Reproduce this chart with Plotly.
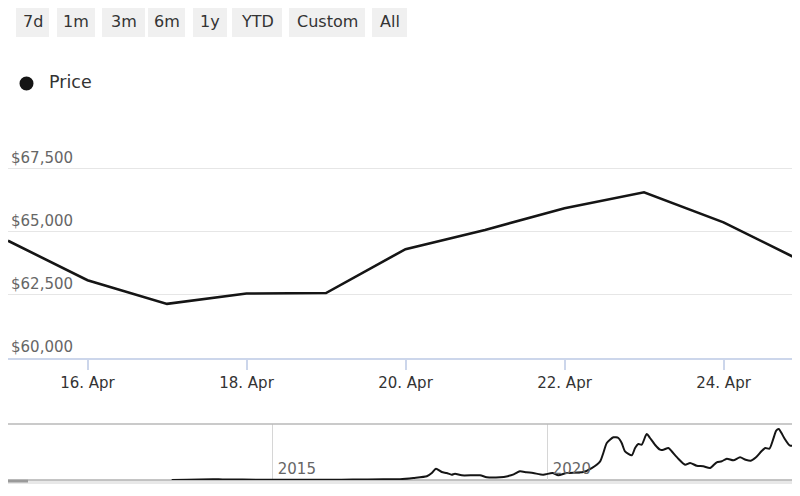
import plotly.graph_objects as go

# ---- main series (daily) ----
dates = ["2024-04-15", "2024-04-16", "2024-04-17", "2024-04-18", "2024-04-19",
         "2024-04-20", "2024-04-21", "2024-04-22", "2024-04-23", "2024-04-24",
         "2024-04-25"]
prices = [64630, 63070, 62130, 62540, 62560, 64300, 65060, 65920, 66550, 65360, 63800]

# ---- navigator series (long history) ----
nav_dates = ["2013-03-01", "2013-11-30", "2014-02-01", "2014-06-15", "2015-01-15",
             "2015-08-01", "2016-01-15", "2016-06-15", "2017-01-05", "2017-04-25",
             "2017-07-23", "2017-10-20", "2017-11-22", "2017-12-20", "2018-01-27",
             "2018-03-01", "2018-04-03", "2018-04-25", "2018-06-09", "2018-10-08",
             "2018-11-22", "2019-02-18", "2019-04-10", "2019-05-20", "2019-06-30",
             "2019-08-13", "2019-09-26", "2019-12-02", "2020-02-01", "2020-03-11",
             "2020-05-06", "2020-08-24", "2020-10-19", "2020-12-14", "2021-01-04",
             "2021-01-27", "2021-03-12", "2021-04-14", "2021-05-06", "2021-05-28",
             "2021-07-12", "2021-08-03", "2021-08-25", "2021-09-16", "2021-10-19",
             "2021-11-10", "2021-12-13", "2022-01-16", "2022-02-07", "2022-03-12",
             "2022-04-03", "2022-05-17", "2022-07-01", "2022-08-03", "2022-09-16",
             "2022-10-30", "2022-12-14", "2023-01-27", "2023-03-01", "2023-04-04",
             "2023-05-18", "2023-07-01", "2023-08-07", "2023-09-10", "2023-10-15",
             "2023-11-20", "2023-12-15", "2024-01-12", "2024-02-05", "2024-02-26",
             "2024-03-14", "2024-04-01", "2024-04-22", "2024-05-25", "2024-06-28",
             "2024-08-02"]
nav_values = [60, 1100, 800, 600, 300,
              250, 420, 650, 900, 1200,
              2900, 5300, 10000, 16100, 11400,
              10000, 7600, 9000, 6700, 6700,
              3900, 3900, 5500, 8000, 12400,
              11000, 10000, 7500, 10000, 6700,
              10000, 11400, 17000, 26700, 38600,
              52900, 61000, 60000, 52900, 41000,
              35300, 45700, 51400, 50400, 65700,
              60000, 50400, 43300, 43300, 45700,
              41000, 30400, 21900, 24300, 20400,
              19600, 17100, 25300, 26700, 30400,
              28100, 32400, 29000, 27600, 32400,
              41000, 45700, 44700, 57600, 70400,
              72900, 67100, 59000, 49600, 49600,
              54300]

button_labels = ["7d", "1m", "3m", "6m", "1y", "YTD", "Custom", "All"]
legend_label = "Price"

# page has an 8px body margin: figure occupies page pixels 8..800 / 8..496
W, H = 792, 488
OFF = 8
def px(x):
    return (x - OFF) / W
def py(y):
    return 1 - (y - OFF) / H

fig = go.Figure()
fig.add_trace(go.Scatter(x=dates, y=prices, mode="lines", name=legend_label,
                         line=dict(color="#151515", width=2.6), showlegend=False,
                         xaxis="x", yaxis="y"))
fig.add_trace(go.Scatter(x=nav_dates, y=nav_values, mode="lines", name="nav",
                         line=dict(color="#151515", width=2, shape="spline", smoothing=0.6),
                         showlegend=False, xaxis="x2", yaxis="y2", hoverinfo="skip"))

shapes = []
annotations = []

# range selector buttons (drawn)
btn_x = [(16, 49), (57, 95), (102, 145), (148, 185), (193, 227), (232, 282), (289, 365), (372, 407)]
for (x0, x1), lab in zip(btn_x, button_labels):
    shapes.append(dict(type="rect", xref="paper", yref="paper",
                       x0=px(x0), x1=px(x1), y0=py(37), y1=py(4.5),
                       fillcolor="#f0f0f0", line=dict(width=0), layer="below"))
    annotations.append(dict(text=lab, xref="paper", yref="paper",
                            x=px((x0 + x1) / 2), y=py(21), xanchor="center", yanchor="middle",
                            showarrow=False, font=dict(family="DejaVu Sans", size=16, color="#333333")))

# legend
shapes.append(dict(type="circle", xref="paper", yref="paper",
                   x0=px(19.5), x1=px(33.5), y0=py(90.5), y1=py(76.5),
                   fillcolor="#151515", line=dict(width=0)))
annotations.append(dict(text=legend_label, xref="paper", yref="paper", x=px(46.5), y=py(82),
                        xanchor="left", yanchor="middle", showarrow=False,
                        font=dict(family="DejaVu Sans", size=17.5, color="#333333")))

# navigator outline and scrollbar
shapes.append(dict(type="line", xref="paper", yref="paper", x0=px(8), x1=1, y0=py(424), y1=py(424),
                   line=dict(color="#b8b8b8", width=1.5)))
shapes.append(dict(type="rect", xref="paper", yref="paper", x0=px(8), x1=1, y0=py(484), y1=py(480.5),
                   fillcolor="#e8e8e8", line=dict(width=0), layer="below"))
shapes.append(dict(type="line", xref="paper", yref="paper", x0=px(28), x1=1, y0=py(480), y1=py(480),
                   line=dict(color="#b0b0b0", width=1.5), layer="below"))
shapes.append(dict(type="rect", xref="paper", yref="paper", x0=px(8), x1=px(28), y0=py(482.5), y1=py(479.3),
                   fillcolor="#9a9a9a", line=dict(width=0), layer="below"))

fig.update_layout(
    width=W, height=H,
    margin=dict(l=0, r=0, t=0, b=0),
    paper_bgcolor="white", plot_bgcolor="white",
    showlegend=False,
    font=dict(family="DejaVu Sans", color="#333333"),
    shapes=shapes, annotations=annotations,
    xaxis=dict(type="date", domain=[0, 1], anchor="y",
               range=["2024-04-15 00:00", "2024-04-24 23:05"],
               tick0="2024-04-16", dtick=2 * 86400000, tickformat="%d. %b",
               ticks="outside", ticklen=10, tickcolor="#ccd6eb", tickwidth=1.5,
               showline=True, linecolor="#ccd6eb", linewidth=2,
               showgrid=False, zeroline=False,
               tickfont=dict(family="DejaVu Sans", size=15, color="#333333")),
    yaxis=dict(domain=[py(357.7), py(120)], anchor="x",
               range=[60000, 69413], tick0=0, dtick=2500,
               tickprefix="$", tickformat=",d", ticklabelposition="inside top",
               showgrid=True, gridcolor="#e6e6e6", gridwidth=1,
               zeroline=False, showline=False, ticks="",
               tickfont=dict(family="DejaVu Sans", size=15, color="#666666")),
    xaxis2=dict(type="date", domain=[0, 1], anchor="y2",
                range=["2010-03-10", "2024-08-02"],
                tick0="2015-01-01", dtick="M60", tickformat="%Y",
                ticklabelposition="inside right", ticklabelshift=5, ticklabelstandoff=-3,
                showgrid=True, gridcolor="#d6d6d6", gridwidth=1.2,
                showline=False, zeroline=False, ticks="",
                tickfont=dict(family="DejaVu Sans", size=15, color="#666666")),
    yaxis2=dict(domain=[py(480), py(424)], anchor="x2", range=[0, 80000],
                visible=False, showgrid=False, zeroline=False),
)

fig.write_html("out.html")
